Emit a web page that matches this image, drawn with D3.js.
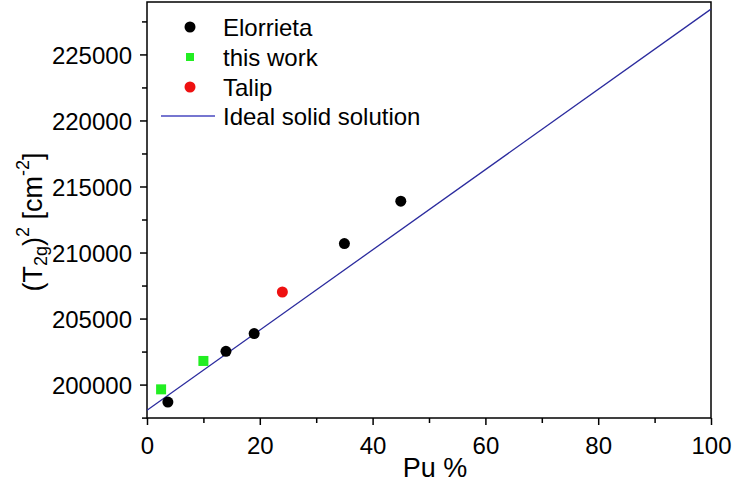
<!DOCTYPE html>
<html><head><meta charset="utf-8">
<script src="https://cdn.jsdelivr.net/npm/d3@7"></script>
<style>body{margin:0;background:#fff}svg{display:block}text{font-family:"Liberation Sans",Arial,sans-serif;fill:#000}</style>
</head><body><svg id="c" width="732" height="485"></svg>
<script>
const elorrietaX = [3.7, 14, 19, 35, 45];
const elorrietaY = [198680, 202520, 203860, 210680, 213890];
const thisWorkX = [2.5, 10];
const thisWorkY = [199640, 201790];
const talipX = [24];
const talipY = [207010];
const idealX = [0, 100];
const idealY = [198050, 228430];
const xTicks = [0, 20, 40, 60, 80, 100];
const yTicks = [200000, 205000, 210000, 215000, 220000, 225000];
const legendLabels = ["Elorrieta", "this work", "Talip", "Ideal solid solution"];

const svg = d3.select("#c");
const m = {l:147, r:21, t:2, b:67};
const W = 732, H = 485;
const x = d3.scaleLinear().domain([0,100]).range([m.l, W-m.r]);
const y = d3.scaleLinear().domain([197470, 228970]).range([H-m.b, m.t]);

svg.append("rect").attr("x", m.l).attr("y", m.t).attr("width", W-m.r-m.l).attr("height", H-m.b-m.t)
  .attr("fill","none").attr("stroke","#000").attr("stroke-width",1.5);

const fs = "24px";
const xa = svg.append("g").attr("transform",`translate(0,${H-m.b})`)
  .call(d3.axisBottom(x).tickValues(d3.range(0,101,10)).tickSize(6).tickFormat(d => xTicks.includes(d) ? d : ""));
xa.select(".domain").remove();
xa.selectAll("line").attr("stroke","#000").attr("stroke-width",1.5).attr("y2", d => xTicks.includes(d) ? 7 : 5);
xa.selectAll("text").attr("font-size",fs).attr("dy","0").attr("y",36);

const ya = svg.append("g").attr("transform",`translate(${m.l},0)`)
  .call(d3.axisLeft(y).tickValues(d3.range(197500,228800,2500)).tickSize(6).tickFormat(d => yTicks.includes(d) ? d : ""));
ya.select(".domain").remove();
ya.selectAll("line").attr("stroke","#000").attr("stroke-width",1.5).attr("x2", d => yTicks.includes(d) ? -7 : -5);
ya.selectAll("text").attr("font-size",fs).attr("x",-15).attr("dy","0.36em");

svg.append("clipPath").attr("id","pc").append("rect")
  .attr("x",m.l).attr("y",m.t).attr("width",W-m.r-m.l).attr("height",H-m.b-m.t);
svg.append("path").datum(idealX.map((v,i)=>[v,idealY[i]]))
  .attr("clip-path","url(#pc)")
  .attr("d", d3.line().x(d=>x(d[0])).y(d=>y(d[1])))
  .attr("fill","none").attr("stroke","#2b2b9e").attr("stroke-width",1.3);

svg.append("g").selectAll("circle").data(elorrietaX.map((v,i)=>[v,elorrietaY[i]])).join("circle")
  .attr("cx",d=>x(d[0])).attr("cy",d=>y(d[1])).attr("r",5.5).attr("fill","#000");
svg.append("g").selectAll("rect").data(thisWorkX.map((v,i)=>[v,thisWorkY[i]])).join("rect")
  .attr("x",d=>x(d[0])-5).attr("y",d=>y(d[1])-5).attr("width",10).attr("height",10).attr("fill","#22ee22");
svg.append("g").selectAll("circle").data(talipX.map((v,i)=>[v,talipY[i]])).join("circle")
  .attr("cx",d=>x(d[0])).attr("cy",d=>y(d[1])).attr("r",5.5).attr("fill","#ee1111");

const lg = svg.append("g");
const rows = [27, 57, 87, 116];
lg.append("circle").attr("cx",190).attr("cy",rows[0]).attr("r",5.5).attr("fill","#000");
lg.append("rect").attr("x",186).attr("y",rows[1]-4).attr("width",8).attr("height",8).attr("fill","#22ee22");
lg.append("circle").attr("cx",190).attr("cy",rows[2]).attr("r",5.5).attr("fill","#ee1111");
lg.append("line").attr("x1",161).attr("x2",215).attr("y1",rows[3]).attr("y2",rows[3]).attr("stroke","#4848c0").attr("stroke-width",1.3);
legendLabels.forEach((t,i)=>{
  lg.append("text").attr("x",223).attr("y",rows[i]).attr("dy","0.36em").attr("font-size","24px").text(t);
});

svg.append("text").attr("x",435).attr("y",477).attr("text-anchor","middle").attr("font-size","27px").text("Pu %");
const yt = svg.append("text").attr("transform","translate(42,222) rotate(-90)").attr("text-anchor","middle").attr("font-size","27px");
yt.append("tspan").text("(T");
yt.append("tspan").attr("font-size","18px").attr("dy","5").text("2g");
yt.append("tspan").attr("dy","-5").text(")");
yt.append("tspan").attr("font-size","18px").attr("dy","-13").text("2");
yt.append("tspan").attr("dy","13").text(" [cm");
yt.append("tspan").attr("font-size","18px").attr("dy","-13").text("-2");
yt.append("tspan").attr("dy","13").text("]");
</script></body></html>
